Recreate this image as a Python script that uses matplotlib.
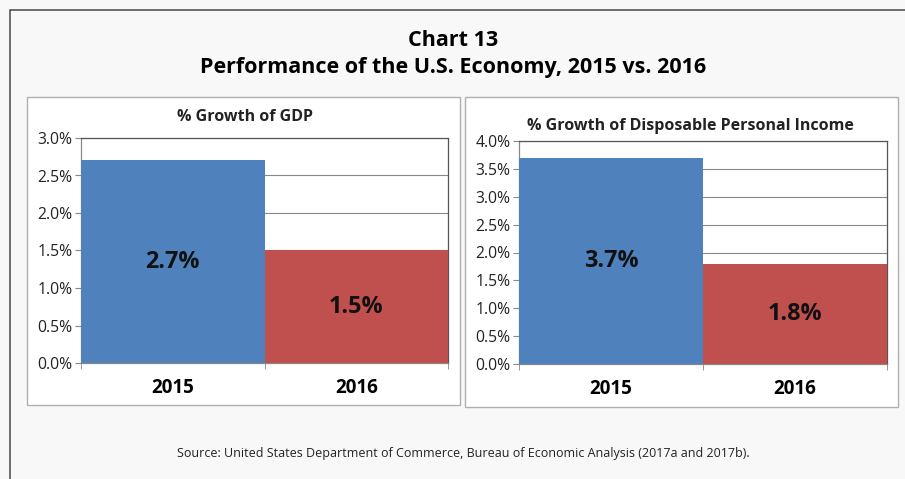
import matplotlib
matplotlib.use("Agg")
import matplotlib.pyplot as plt
from matplotlib.patches import Rectangle
from matplotlib.ticker import FuncFormatter, MultipleLocator

years = ["2015", "2016"]
gdp_growth = [2.7, 1.5]
income_growth = [3.7, 1.8]
bar_colors = ["#4F81BD", "#C0504D"]

plt.rcParams['font.family'] = ['Open Sans', 'DejaVu Sans']

fig = plt.figure(figsize=(9.05, 4.79), dpi=100)
fig.patch.set_facecolor("#f8f8f8")

W, H = 905, 479
def fx(px): return px / W
def fy(py): return 1 - py / H

# outer frame
fig.add_artist(Rectangle((fx(10), -0.01), 1.0, fy(10) + 0.01, transform=fig.transFigure,
                         fill=False, edgecolor="#555555", lw=1.2))

# panel boxes
for (x0, x1, y0, y1) in [(27, 460, 97, 405), (465, 898, 97, 407)]:
    fig.add_artist(Rectangle((fx(x0), fy(y1)), fx(x1) - fx(x0), fy(y0) - fy(y1),
                             transform=fig.transFigure, facecolor="white",
                             edgecolor="#b0b0b0", lw=1.0, zorder=0))

fig.text(fx(453), fy(40), "Chart 13", ha="center", va="center", fontsize=15.5, fontweight="bold")
fig.text(fx(453), fy(68), "Performance of the U.S. Economy, 2015 vs. 2016", ha="center",
         va="center", fontsize=15.5, fontweight="bold")
fig.text(fx(463), fy(453), "Source: United States Department of Commerce, Bureau of Economic Analysis (2017a and 2017b).",
         ha="center", va="center", fontsize=9.0, color="#222222")

def panel(rect, values, ymax, title, title_y, title_x):
    ax = fig.add_axes(rect)
    ax.set_facecolor("white")
    x = list(range(len(values)))
    ax.bar(x, values, width=1.0, color=bar_colors, zorder=3)
    ax.set_xlim(-0.5, 1.5)
    ax.set_ylim(0, ymax)
    ax.yaxis.set_major_locator(MultipleLocator(0.5))
    ax.yaxis.set_major_formatter(FuncFormatter(lambda v, p: f"{v:.1f}%"))
    ax.grid(axis="y", color="#888888", lw=0.8, zorder=0)
    ax.set_xticks(x)
    ax.set_xticklabels(years, fontsize=13.5, fontweight="bold")
    ax.tick_params(axis="x", length=0, pad=11)
    ax.set_xticks([-0.5, 0.5, 1.5], minor=True)
    ax.tick_params(axis="x", which="minor", length=4, color="#888888")
    ax.tick_params(axis="y", labelsize=11.3, length=4, color="#888888", pad=2,
                   labelcolor="#222222")
    for s in ax.spines.values():
        s.set_color("#555555")
        s.set_linewidth(0.9)
    ax.spines["left"].set_color("#888888")
    ax.spines["bottom"].set_color("#888888")
    for xi, v in zip(x, values):
        ax.text(xi, v / 2, f"{v:.1f}%", ha="center", va="center", fontsize=16.8,
                fontweight="bold", color="#111111", zorder=4)
    fig.text(title_x, title_y, title, ha="center", va="center", fontsize=11.5, fontweight="bold",
             color="#222222")
    return ax

panel([fx(81), fy(363), fx(448) - fx(81), fy(138) - fy(363)], gdp_growth, 3.0,
      "% Growth of GDP", fy(117), fx(245))
panel([fx(519), fy(364), fx(887) - fx(519), fy(141) - fy(364)], income_growth, 4.0,
      "% Growth of Disposable Personal Income", fy(126), fx(690))

fig.savefig("out.png", dpi=100, facecolor=fig.get_facecolor())
